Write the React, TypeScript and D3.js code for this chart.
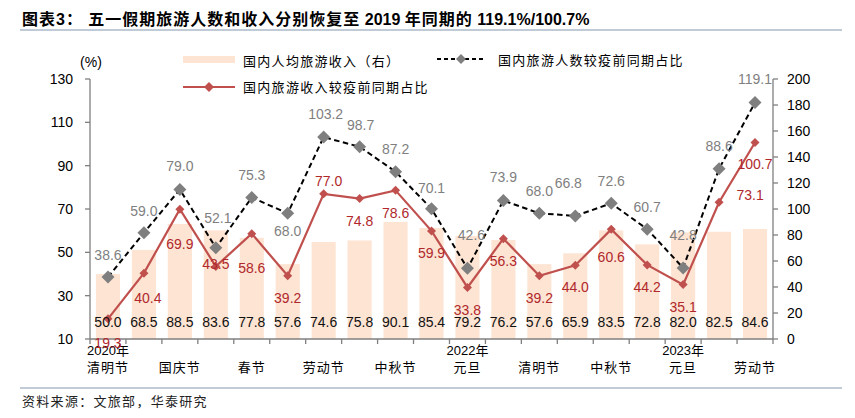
import React from "react"
import * as d3 from "d3"

// x categories: [top line, bottom line]; empty for unlabeled holidays
const categories: [string, string][] = [
  ["2020年", "清明节"], ["", ""], ["", "国庆节"], ["", ""], ["", "春节"],
  ["", ""], ["", "劳动节"], ["", ""], ["", "中秋节"], ["", ""],
  ["2022年", "元旦"], ["", ""], ["", "清明节"], ["", ""], ["", "中秋节"],
  ["", ""], ["2023年", "元旦"], ["", ""], ["", "劳动节"],
]

// 国内人均旅游收入（右），%
const incomePerCapita = [50.0, 68.5, 88.5, 83.6, 77.8, 57.6, 74.6, 75.8, 90.1, 85.4, 79.2, 76.2, 57.6, 65.9, 83.5, 72.8, 82.0, 82.5, 84.6]
// 国内旅游人数较疫前同期占比
const touristsRatio = [38.6, 59.0, 79.0, 52.1, 75.3, 68.0, 103.2, 98.7, 87.2, 70.1, 42.6, 73.9, 68.0, 66.8, 72.6, 60.7, 42.8, 88.6, 119.1]
// 国内旅游收入较疫前同期占比
const revenueRatio = [19.3, 40.4, 69.9, 43.5, 58.6, 39.2, 77.0, 74.8, 78.6, 59.9, 33.8, 56.3, 39.2, 44.0, 60.6, 44.2, 35.1, 73.1, 100.7]

const leftTicks = [10, 30, 50, 70, 90, 110, 130]
const rightTicks = [0, 20, 40, 60, 80, 100, 120, 140, 160, 180, 200]

// label nudges [dx, dy] relative to the marker
const grayLabelNudge: [number, number][] = [
  [0, -22], [0, -22], [0, -23], [2, -30], [0, -22], [0, 18], [2, -23], [1, -22], [0, -23], [0, -21],
  [4, -33], [0, -23], [0, -22], [-7, -33], [0, -22], [0, -22], [0, -33], [0, -23], [0, -24],
]
const redLabelNudge: [number, number][] = [
  [0, 24], [4, 25], [0, 35], [0, -2], [0, 34], [0, 22], [5, -13], [0, 22], [0, 23], [0, 22],
  [0, 23], [0, 22], [0, 22], [0, 22], [0, 28], [0, 22], [0, 22], [31, -7], [0, 22],
]

const W = 855
const H = 418
const plot = { left: 90, right: 773, top: 79, bottom: 339 }

const NUM_FONT = "'Liberation Sans', Arial, sans-serif"
const CJK_FONT = "'Noto Sans CJK SC', sans-serif"
const MIX_FONT = "'Liberation Sans', 'Noto Sans CJK SC', sans-serif"

const BAR_COLOR = "#fde4d3"
const RED = "#c0504d"
const RED_TEXT = "#b0282c"
const GRAY = "#7f7f7f"
const RULE = "#8497b0"

const diamond = (cx: number, cy: number, r: number) =>
  `M${cx},${cy - r}L${cx + r},${cy}L${cx},${cy + r}L${cx - r},${cy}Z`

export default function App() {
  const x = d3.scaleBand<number>()
    .domain(d3.range(categories.length))
    .range([plot.left, plot.right])
    .paddingInner(0.33)
    .paddingOuter(0.165)
  const step = x.step()
  const cx = (i: number) => (x(i) as number) + x.bandwidth() / 2

  const yLeft = d3.scaleLinear().domain([10, 130]).range([plot.bottom, plot.top])
  const yRight = d3.scaleLinear().domain([0, 200]).range([plot.bottom, plot.top])

  const line = d3.line<number>().x((_, i) => cx(i)).y((d) => yLeft(d))
  const grayPath = line(touristsRatio) || ""
  const redPath = line(revenueRatio) || ""

  return (
    <svg width={W} height={H} style={{ position: "absolute", left: 0, top: 0, background: "#fff" }}>
      {/* title */}
      <text x={22} y={25} fontSize={16} fontWeight="bold" fontFamily={MIX_FONT} fill="#000" style={{ whiteSpace: "pre" }}>
        <tspan letterSpacing={1}>图表3： 五一假期旅游人数和收入分别恢复至</tspan>
        <tspan> 2019 </tspan>
        <tspan letterSpacing={1}>年同期的</tspan>
        <tspan> 119.1%/100.7%</tspan>
      </text>
      <line x1={20} x2={842} y1={30} y2={30} stroke={RULE} strokeWidth={1.2} />

      {/* bars */}
      {incomePerCapita.map((v, i) => (
        <rect key={`b${i}`} x={x(i)} y={yRight(v)} width={x.bandwidth()} height={plot.bottom - yRight(v)} fill={BAR_COLOR} />
      ))}

      {/* axes */}
      <g stroke="#7f7f7f" strokeWidth={1.3}>
        <line x1={plot.left} x2={plot.left} y1={plot.top} y2={plot.bottom} />
        <line x1={plot.right} x2={plot.right} y1={plot.top} y2={plot.bottom} />
        <line x1={plot.left} x2={plot.right} y1={plot.bottom} y2={plot.bottom} />
        {leftTicks.map((t) => (
          <line key={`lt${t}`} x1={plot.left - 5} x2={plot.left} y1={yLeft(t)} y2={yLeft(t)} />
        ))}
        {rightTicks.map((t) => (
          <line key={`rt${t}`} x1={plot.right} x2={plot.right + 5} y1={yRight(t)} y2={yRight(t)} />
        ))}
        {d3.range(categories.length + 1).map((i) => (
          <line key={`xt${i}`} x1={plot.left + i * step} x2={plot.left + i * step} y1={plot.bottom} y2={plot.bottom + 5} />
        ))}
      </g>
      <g fontFamily={NUM_FONT} fontSize={14} fill="#000">
        {leftTicks.map((t) => (
          <text key={`ll${t}`} x={73} y={yLeft(t)} dy="0.35em" textAnchor="end">{t}</text>
        ))}
        {rightTicks.map((t) => (
          <text key={`rl${t}`} x={787} y={yRight(t)} dy="0.35em">{t}</text>
        ))}
        <text x={91} y={62} dy="0.35em" textAnchor="middle">(%)</text>
      </g>

      {/* x labels */}
      <g fontFamily={MIX_FONT} fontSize={13} fill="#000" textAnchor="middle">
        {categories.map(([top, bottom], i) => (
          <g key={`xl${i}`}>
            {top && <text x={cx(i)} y={350} dy="0.35em">{top}</text>}
            {bottom && <text x={cx(i)} y={367} dy="0.35em" letterSpacing={1}>{bottom}</text>}
          </g>
        ))}
      </g>

      {/* lines */}
      <path d={redPath} fill="none" stroke={RED} strokeWidth={2.2} />
      <path d={grayPath} fill="none" stroke="#000" strokeWidth={2} strokeDasharray="5.5,3.5" />
      {revenueRatio.map((v, i) => (
        <path key={`rm${i}`} d={diamond(cx(i), yLeft(v), 4.5)} fill={RED} />
      ))}
      {touristsRatio.map((v, i) => (
        <path key={`gm${i}`} d={diamond(cx(i), yLeft(v), 6.5)} fill={GRAY} />
      ))}

      {/* data labels */}
      <g fontFamily={NUM_FONT} fontSize={14} textAnchor="middle">
        {incomePerCapita.map((v, i) => (
          <text key={`bl${i}`} x={cx(i)} y={322} dy="0.35em" fill="#111">{v.toFixed(1)}</text>
        ))}
        {touristsRatio.map((v, i) => (
          <text key={`gl${i}`} x={cx(i) + grayLabelNudge[i][0]} y={yLeft(v) + grayLabelNudge[i][1]} dy="0.35em" fill={GRAY}>{v.toFixed(1)}</text>
        ))}
        {revenueRatio.map((v, i) => (
          <text key={`rl${i}`} x={cx(i) + redLabelNudge[i][0]} y={yLeft(v) + redLabelNudge[i][1]} dy="0.35em" fill={RED_TEXT}>{v.toFixed(1)}</text>
        ))}
      </g>

      {/* legend */}
      <g fontFamily={CJK_FONT} fontSize={13} fill="#000" letterSpacing={1.3}>
        <rect x={183} y={56} width={52} height={7} fill={BAR_COLOR} />
        <text x={243} y={61} dy="0.35em">国内人均旅游收入（右）</text>
        <line x1={437} x2={485} y1={59} y2={59} stroke="#000" strokeWidth={2} strokeDasharray="4,3" />
        <path d={diamond(461, 59, 5)} fill={GRAY} />
        <text x={498} y={60} dy="0.35em">国内旅游人数较疫前同期占比</text>
        <line x1={183} x2={235} y1={87} y2={87} stroke={RED} strokeWidth={2.2} />
        <path d={diamond(209, 87, 5)} fill={RED} />
        <text x={243} y={87} dy="0.35em">国内旅游收入较疫前同期占比</text>
      </g>

      {/* source */}
      <line x1={20} x2={842} y1={388} y2={388} stroke={RULE} strokeWidth={1} />
      <text x={22} y={401} dy="0.35em" fontFamily={CJK_FONT} fontSize={13} letterSpacing={1.3} fill="#222">
        资料来源：文旅部，华泰研究
      </text>
    </svg>
  )
}
